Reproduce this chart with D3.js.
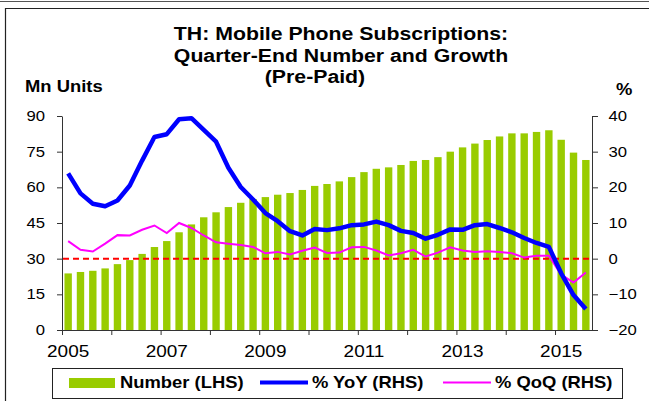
<!DOCTYPE html>
<html>
<head>
<meta charset="utf-8">
<script src="https://cdn.jsdelivr.net/npm/d3@7"></script>
<style>
  body { margin: 0; background: #fff; }
  text { font-family: Arial, "Liberation Sans", sans-serif; fill: #000; }
</style>
</head>
<body>
<svg width="649" height="401"></svg>
<script>
// quarter-end categories, 2005Q1 - 2015Q3
var quarters = ["2005Q1","2005Q2","2005Q3","2005Q4","2006Q1","2006Q2","2006Q3","2006Q4",
	"2007Q1","2007Q2","2007Q3","2007Q4","2008Q1","2008Q2","2008Q3","2008Q4",
	"2009Q1","2009Q2","2009Q3","2009Q4","2010Q1","2010Q2","2010Q3","2010Q4",
	"2011Q1","2011Q2","2011Q3","2011Q4","2012Q1","2012Q2","2012Q3","2012Q4",
	"2013Q1","2013Q2","2013Q3","2013Q4","2014Q1","2014Q2","2014Q3","2014Q4",
	"2015Q1","2015Q2","2015Q3"];

// Number of pre-paid subscriptions (Mn units, LHS)
var number = [23.8, 24.4, 24.9, 25.9, 27.7, 29.4, 32.0, 34.9, 37.4, 41.1, 44.4, 47.4, 49.5,
	51.7, 53.5, 55.1, 55.9, 56.9, 57.6, 58.9, 60.6, 61.4, 62.5, 64.3, 66.4, 67.8, 68.4, 69.4, 71.1,
	71.5, 72.7, 75.0, 76.8, 78.4, 79.9, 81.4, 82.7, 82.7, 83.3, 84.0, 80.0, 74.6, 71.5];

// % YoY (RHS)
var yoy = [23.9, 18.3, 15.4, 14.7, 16.3, 20.5, 27.5, 34.1, 34.9, 39.1, 39.4, 36.1, 32.8,
	25.5, 20.1, 16.6, 12.8, 10.5, 7.7, 6.5, 8.3, 8.0, 8.5, 9.4, 9.6, 10.4, 9.4, 7.8, 7.2,
	5.6, 6.7, 8.2, 8.1, 9.4, 9.7, 8.6, 7.4, 5.8, 4.4, 3.3, -4.1, -10.2, -14.1];

// % QoQ (RHS)
var qoq = [4.9, 2.5, 2.0, 4.2, 6.6, 6.5, 8.1, 9.3, 7.2, 10.0, 8.6, 6.5, 4.6,
	4.2, 3.8, 3.3, 1.5, 1.9, 1.2, 2.2, 3.1, 1.6, 1.7, 3.2, 3.3, 2.3, 0.9, 1.5, 2.5,
	0.6, 1.7, 3.2, 2.3, 1.9, 2.1, 1.9, 1.5, 0.3, 0.8, 0.8, -4.5, -6.7, -3.9];

var leftTicks = [0, 15, 30, 45, 60, 75, 90];
var rightTicks = [-20, -10, 0, 10, 20, 30, 40];
var yearLabels = ["2005Q1","2007Q1","2009Q1","2011Q1","2013Q1","2015Q1"];
var yearTicks = [0, 4, 8, 12, 16, 20, 24, 28, 32, 36, 40];

var titleLines = ["TH: Mobile Phone Subscriptions:", "Quarter-End Number and Growth", "(Pre-Paid)"];
var legendItems = [
	{name: "Number (LHS)", type: "bar"},
	{name: "% YoY (RHS)", type: "yoy"},
	{name: "% QoQ (RHS)", type: "qoq"}
];

var svg = d3.select("svg");
var SX = 1.15; // the source text is a bit wider than plain Arial

// stretch a text element horizontally but keep its anchor point
function stretch(sel) {
	sel.each(function() {
		var t = d3.select(this);
		var x = +t.attr("x") || 0;
		t.attr("x", x / SX).attr("transform", "scale(" + SX + ",1)");
	});
}

var plotLeft = 62, plotRight = 592, plotTop = 116, plotBottom = 330;

var x = d3.scaleBand()
	.domain(quarters)
	.range([plotLeft, plotRight])
	.paddingInner(0.4)
	.paddingOuter(0.2);
var xi = d3.scaleLinear().domain([0, quarters.length]).range([plotLeft, plotRight]);
var yL = d3.scaleLinear().domain([0, 90]).range([plotBottom, plotTop]);
var yR = d3.scaleLinear().domain([-20, 40]).range([plotBottom, plotTop]);

// outer frames
svg.append("line").attr("x1", 0).attr("x2", 649).attr("y1", 1.5).attr("y2", 1.5)
	.attr("stroke", "#555").attr("stroke-width", 1);
svg.append("path").attr("d", "M5.5,401V8.5H649")
	.attr("fill", "none").attr("stroke", "#222").attr("stroke-width", 1.2);

// title
svg.append("g").selectAll("text")
	.data(titleLines)
	.enter().append("text")
	.attr("x", function(d, i) { return i < 2 ? 341 : 315; })
	.attr("y", function(d, i) { return 40.5 + i * 21.5; })
	.attr("text-anchor", "middle")
	.style("font-size", "18.5px")
	.style("font-weight", "bold")
	.text(function(d) { return d; })
	.call(stretch);

svg.append("text").attr("x", 25).attr("y", 92.5)
	.style("font-size", "16px").style("font-weight", "bold")
	.text("Mn Units").call(stretch);
svg.append("text").attr("x", 616).attr("y", 95)
	.style("font-size", "16px").style("font-weight", "bold")
	.text("%").call(stretch);

// bars
svg.append("g").selectAll("rect")
	.data(number)
	.enter().append("rect")
	.attr("x", function(d, i) { return x(quarters[i]); })
	.attr("width", x.bandwidth())
	.attr("y", function(d) { return yL(d); })
	.attr("height", function(d) { return yL(0) - yL(d); })
	.attr("fill", "#99CC00");

// zero line of the right axis
svg.append("line")
	.attr("x1", plotLeft + 1).attr("x2", plotRight)
	.attr("y1", yR(0)).attr("y2", yR(0))
	.attr("stroke", "#FF0000").attr("stroke-width", 2)
	.attr("stroke-dasharray", "6,4");

var cx = function(d, i) { return x(quarters[i]) + x.bandwidth() / 2; };

svg.append("path")
	.datum(qoq)
	.attr("fill", "none")
	.attr("stroke", "#FF00FF")
	.attr("stroke-width", 2)
	.attr("d", d3.line().x(cx).y(function(d) { return yR(d); }));

svg.append("path")
	.datum(yoy)
	.attr("fill", "none")
	.attr("stroke", "#0000FF")
	.attr("stroke-width", 4.5)
	.attr("stroke-linejoin", "round")
	.attr("d", d3.line().x(cx).y(function(d) { return yR(d); }));

// axes
var gL = svg.append("g").attr("transform", "translate(" + plotLeft + ",0)")
	.call(d3.axisLeft(yL).tickValues(leftTicks).tickSize(5).tickSizeOuter(0).tickPadding(12));
var gR = svg.append("g").attr("transform", "translate(" + plotRight + ",0)")
	.call(d3.axisRight(yR).tickValues(rightTicks).tickSize(6).tickSizeOuter(0).tickPadding(10.5));
var gB = svg.append("g").attr("transform", "translate(0," + plotBottom + ")")
	.call(d3.axisBottom(xi).tickValues(yearTicks).tickSize(5).tickSizeOuter(0).tickFormat(""));
var gT = svg.append("g").attr("transform", "translate(0," + plotBottom + ")")
	.call(d3.axisBottom(x).tickValues(yearLabels).tickSize(0).tickPadding(15.5)
		.tickFormat(function(d) { return d.slice(0, 4); }));
gT.select(".domain").remove();

[gL, gR, gB].forEach(function(g) {
	g.selectAll("path, line").attr("stroke", "#333");
});
[gL, gR].forEach(function(g) {
	g.selectAll("text").style("font-size", "14.5px").attr("fill", "#000")
		.style("font-family", "Arial, 'Liberation Sans', sans-serif").call(stretch);
});
gT.selectAll("text").style("font-size", "16.5px").attr("fill", "#000")
	.style("font-family", "Arial, 'Liberation Sans', sans-serif").call(stretch);

// legend
var legend = svg.append("g");
legend.append("rect")
	.attr("x", 52.5).attr("y", 368.5).attr("width", 570).attr("height", 30)
	.attr("fill", "#fff").attr("stroke", "#222").attr("stroke-width", 1);

var legX = [69, 260, 443];
var item = legend.selectAll("g.item")
	.data(legendItems)
	.enter().append("g").attr("class", "item")
	.attr("transform", function(d, i) { return "translate(" + legX[i] + ",0)"; });

item.each(function(d) {
	var g = d3.select(this);
	if (d.type === "bar") {
		g.append("rect").attr("x", 0).attr("y", 378).attr("width", 46).attr("height", 10)
			.attr("fill", "#99CC00");
	} else {
		g.append("line").attr("x1", 0).attr("x2", 48).attr("y1", 382.5).attr("y2", 382.5)
			.attr("stroke", d.type === "yoy" ? "#0000FF" : "#FF00FF")
			.attr("stroke-width", d.type === "yoy" ? 4 : 2);
	}
	g.append("text")
		.attr("x", d.type === "bar" ? 51 : 52)
		.attr("y", 388)
		.style("font-size", "16px").style("font-weight", "bold")
		.text(d.name).call(stretch);
});
</script>
</body>
</html>
